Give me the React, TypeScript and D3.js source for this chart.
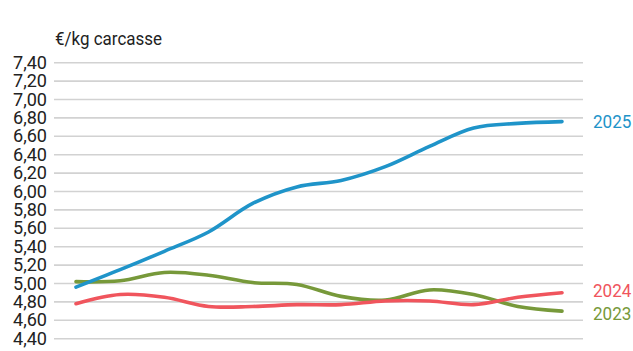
import React from "react";
import * as d3 from "d3";

const periods = ["1", "2", "3", "4", "5", "6", "7", "8", "9", "10", "11", "12"];
const years = ["2025", "2024", "2023"];
const values2025 = [4.96, 5.15, 5.35, 5.56, 5.87, 6.05, 6.12, 6.27, 6.49, 6.69, 6.74, 6.76];
const values2024 = [4.78, 4.88, 4.85, 4.75, 4.75, 4.77, 4.77, 4.81, 4.81, 4.77, 4.85, 4.90];
const values2023 = [5.02, 5.03, 5.12, 5.09, 5.01, 4.99, 4.86, 4.82, 4.93, 4.88, 4.75, 4.70];
const yTicks = [4.4, 4.6, 4.8, 5.0, 5.2, 5.4, 5.6, 5.8, 6.0, 6.2, 6.4, 6.6, 6.8, 7.0, 7.2, 7.4];
const unitLabel = "€/kg carcasse";

const colors: Record<string, string> = {
  "2025": "#1f94c9",
  "2024": "#f0555d",
  "2023": "#77993a",
};
const labelNudge: Record<string, number> = { "2025": 0, "2024": -2, "2023": 2.5 };

export default function App() {
  const W = 633;
  const H = 351;
  const x = d3.scalePoint<string>().domain(periods).range([76, 562]);
  const y = d3.scaleLinear().domain([4.4, 7.4]).range([338.7, 62.7]);
  const line = d3
    .line<number>()
    .x((_, i) => x(periods[i]) as number)
    .y((d) => y(d))
    .curve(d3.curveCatmullRom.alpha(0.5));
  const series: [string, number[]][] = [
    ["2023", values2023],
    ["2024", values2024],
    ["2025", values2025],
  ];
  const fmt = (v: number) => v.toFixed(2).replace(".", ",");
  const font = "Roboto, 'Liberation Sans', Arial, sans-serif";
  return (
    <svg
      width={W}
      height={H}
      style={{ position: "absolute", left: 0, top: 0, background: "#fff" }}
      fontFamily={font}
    >
      <text x={55} y={45} fontSize={18} fill="#222" textLength={107} lengthAdjust="spacingAndGlyphs">
        {unitLabel}
      </text>
      {yTicks.map((t) => (
        <g key={t}>
          <line x1={54} x2={583} y1={y(t)} y2={y(t)} stroke="#d2d2d2" strokeWidth={1.6} />
          <text
            x={47}
            y={y(t)}
            textAnchor="end"
            dominantBaseline="central"
            fontSize={17.5}
            fill="#222"
            textLength={34}
            lengthAdjust="spacingAndGlyphs"
          >
            {fmt(t)}
          </text>
        </g>
      ))}
      {series.map(([name, vals]) => (
        <path
          key={name}
          d={line(vals) || ""}
          fill="none"
          stroke={colors[name]}
          strokeWidth={3.6}
          strokeLinecap="round"
          strokeLinejoin="round"
        />
      ))}
      {series.map(([name, vals]) => (
        <text
          key={"l" + name}
          x={593}
          y={y(vals[vals.length - 1]) + labelNudge[name]}
          dominantBaseline="central"
          fontSize={17.5}
          fill={colors[name]}
          textLength={38.5}
          lengthAdjust="spacingAndGlyphs"
        >
          {name}
        </text>
      ))}
    </svg>
  );
}
